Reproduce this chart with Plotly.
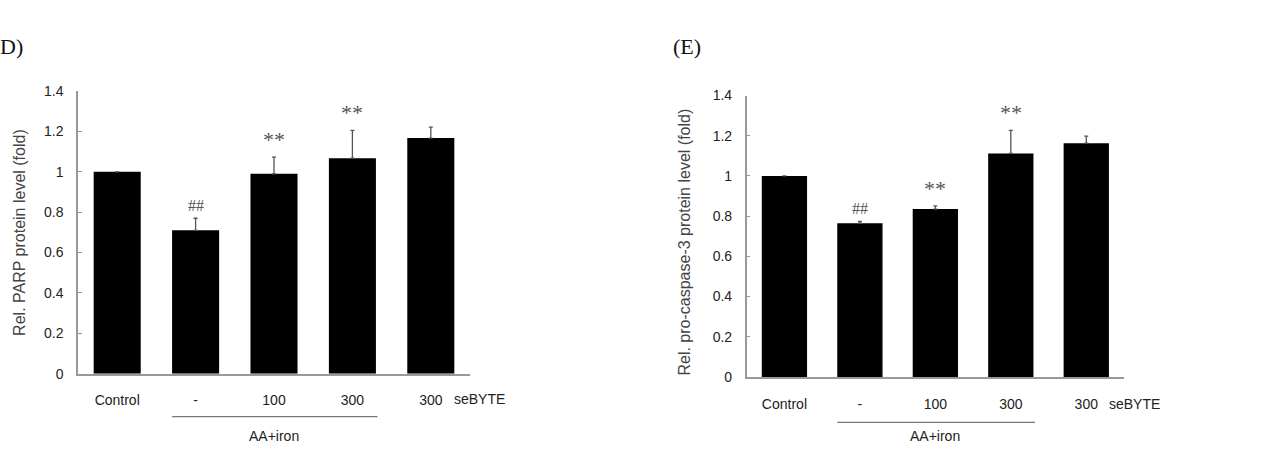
import plotly.graph_objects as go

# ---- data ----
categories = ["Control", "-", "100", "300", "300"]
parp_values = [1.00, 0.71, 0.99, 1.067, 1.167]
parp_err = [None, 0.06, 0.083, 0.138, 0.054]
parp_marks = ["", "##", "**", "**", ""]

casp_values = [1.00, 0.765, 0.835, 1.112, 1.163]
casp_err = [None, 0.009, 0.016, 0.115, 0.035]
casp_marks = ["", "##", "**", "**", ""]

y_ticks = [0, 0.2, 0.4, 0.6, 0.8, 1.0, 1.2, 1.4]
y_ticktext = ["0", "0.2", "0.4", "0.6", "0.8", "1", "1.2", "1.4"]

W, H = 1275, 459
xpos = list(range(len(categories)))

fig = go.Figure()

def add_bars(values, errs, xa, ya):
    fig.add_trace(go.Bar(
        x=xpos, y=values, xaxis=xa, yaxis=ya,
        marker=dict(color="black", line=dict(width=0)),
        width=0.6,
        error_y=dict(type="data", symmetric=False,
                     array=[e if e is not None else 0 for e in errs],
                     arrayminus=[0] * len(errs),
                     color="#555", thickness=1.3, width=2,
                     visible=True),
        showlegend=False,
    ))

add_bars(parp_values, parp_err, "x", "y")
add_bars(casp_values, casp_err, "x2", "y2")

axis_font = dict(family="Liberation Sans, Arial", size=14, color="#222")

common_x = dict(range=[-0.5, 4.5], tickmode="array", tickvals=xpos, ticktext=categories,
                showline=True, linecolor="#999", linewidth=1.5, ticks="",
                showgrid=False, zeroline=False, tickfont=axis_font, ticklabelstandoff=13,
                fixedrange=True)
common_y = dict(range=[0, 1.4], tickmode="array", tickvals=y_ticks, ticktext=y_ticktext,
                showline=True, linecolor="#999", linewidth=1.5, ticks="inside", ticklen=4,
                tickcolor="#999", showgrid=False, zeroline=False, tickfont=axis_font,
                ticklabelstandoff=10, fixedrange=True)

fig.update_layout(
    width=W, height=H,
    margin=dict(l=0, r=0, t=0, b=0),
    paper_bgcolor="white", plot_bgcolor="white",
    bargap=0.4,
    xaxis=dict(domain=[78 / W, 470 / W], anchor="y", **common_x),
    yaxis=dict(domain=[1 - 379 / H, 1 - 86 / H], anchor="x", **common_y),
    xaxis2=dict(domain=[746.7 / W, 1124 / W], anchor="y2", **common_x),
    yaxis2=dict(domain=[1 - 382.3 / H, 1 - 90.7 / H], anchor="x2", **common_y),
)

annotations = []
serif = "Liberation Serif, Times New Roman, serif"

def add_marks(values, errs, marks, xr, yr):
    for i, (v, e, m) in enumerate(zip(values, errs, marks)):
        if not m:
            continue
        top = v + (e or 0)
        size = 16 if m == "##" else 22
        annotations.append(dict(x=i, y=top, xref=xr, yref=yr, text=m, showarrow=False,
                                yanchor="bottom", xanchor="center",
                                yshift=2 if m == "##" else 3,
                                font=dict(family=serif, size=size, color="#555")))

add_marks(parp_values, parp_err, parp_marks, "x", "y")
add_marks(casp_values, casp_err, casp_marks, "x2", "y2")

# group labels
for xr, ycen in [("x", 405), ("x2", 410)]:
    annotations.append(dict(x=4.27, y=1 - ycen / H, xref=xr, yref="paper", text="seBYTE",
                            showarrow=False, xanchor="left", yanchor="middle", font=axis_font))
for xr, yline in [("x", 423.3), ("x2", 429.3)]:
    fig.add_shape(type="line", xref=xr, yref="paper", x0=0.7, x1=3.32,
                  y0=1 - yline / H, y1=1 - yline / H, line=dict(color="#777", width=1.2))
    annotations.append(dict(x=2.0, y=1 - 443 / H, xref=xr, yref="paper", text="AA+iron",
                            showarrow=False, xanchor="center", yanchor="middle", font=axis_font))

# y-axis titles
title_font = dict(family="Liberation Sans, Arial", size=16, color="#444")
annotations.append(dict(x=20 / W, y=1 - 233 / H, xref="paper", yref="paper",
                        text="Rel. PARP protein level (fold)", textangle=-90, showarrow=False,
                        xanchor="center", yanchor="middle", font=title_font))
annotations.append(dict(x=685 / W, y=1 - 243 / H, xref="paper", yref="paper",
                        text="Rel. pro-caspase-3 protein level (fold)", textangle=-90,
                        showarrow=False, xanchor="center", yanchor="middle", font=title_font))

# panel labels
annotations.append(dict(x=25 / W, y=1 - 40 / H, xref="paper", yref="paper", text="D)",
                        showarrow=False, xanchor="right", yanchor="middle",
                        font=dict(family=serif, size=22, color="#111")))
annotations.append(dict(x=687 / W, y=1 - 40 / H, xref="paper", yref="paper", text="(E)",
                        showarrow=False, xanchor="center", yanchor="middle",
                        font=dict(family=serif, size=22, color="#111")))

fig.update_layout(annotations=annotations)
fig.write_html("out.html")
